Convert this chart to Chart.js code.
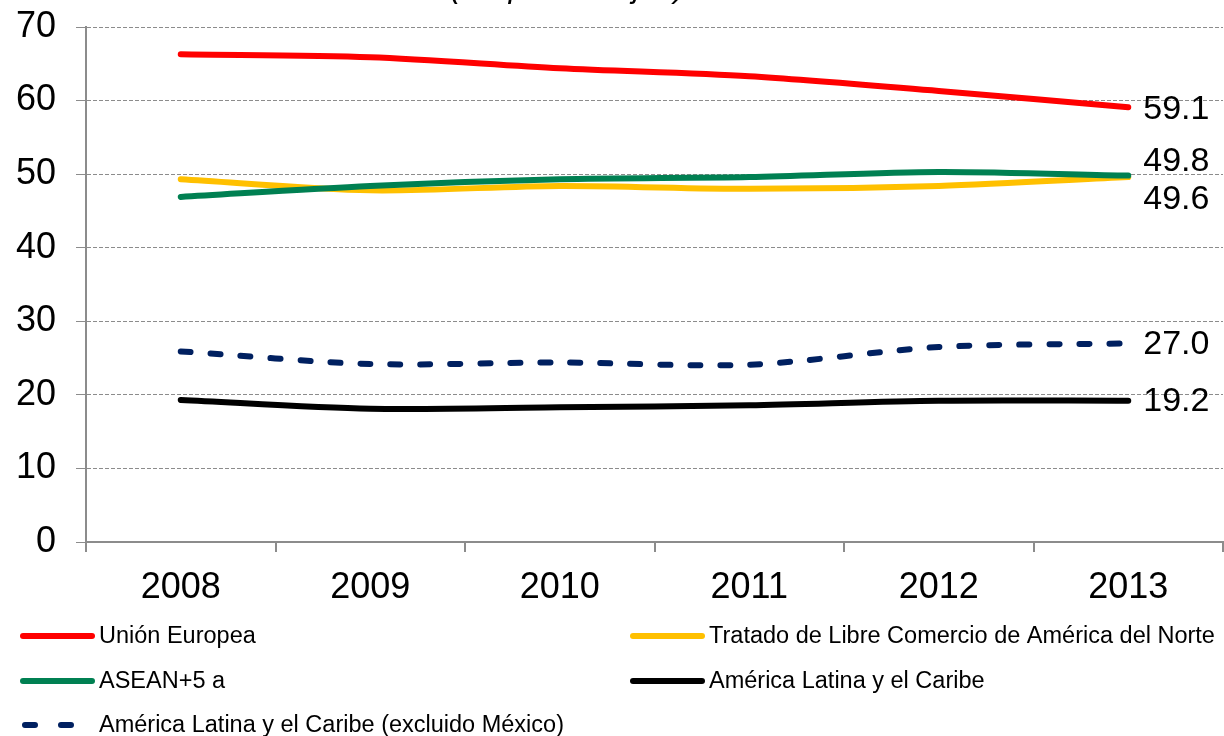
<!DOCTYPE html>
<html lang="es">
<head>
<meta charset="utf-8">
<title>Comercio intrarregional</title>
<script src="https://cdn.jsdelivr.net/npm/chart.js"></script>
<style>
  html, body { margin: 0; padding: 0; background: #fff; }
  #contenedor { width: 1224px; height: 736px; }
</style>
</head>
<body>
<div id="contenedor"><canvas id="comercioChart" width="1224" height="736"></canvas></div>
<script>
// Datos (en porcentajes)
const anios = ['2008', '2009', '2010', '2011', '2012', '2013'];
const unionEuropea = [66.3, 65.9, 64.4, 63.3, 61.3, 59.1];
const tlcan = [49.3, 47.8, 48.4, 48.0, 48.4, 49.6];
const asean = [46.9, 48.4, 49.3, 49.6, 50.3, 49.8];
const americaLatina = [19.3, 18.1, 18.3, 18.6, 19.2, 19.2];
const americaLatinaSinMexico = [25.9, 24.2, 24.4, 24.1, 26.5, 27.0];
const ticksY = [0, 10, 20, 30, 40, 50, 60, 70];

const fuente = '"Liberation Sans", Arial, sans-serif';

// Etiquetas con el último valor de cada serie
const etiquetasFinales = {
    id: 'etiquetasFinales',
    afterDatasetsDraw(chart) {
        const ctx = chart.ctx;
        const ajustes = [2, 23, -14, 1, 1]; // desplazamiento vertical de cada etiqueta
        ctx.save();
        ctx.font = '34px ' + fuente;
        ctx.fillStyle = '#000';
        ctx.textBaseline = 'middle';
        chart.data.datasets.forEach((ds, i) => {
            const meta = chart.getDatasetMeta(i);
            const punto = meta.data[meta.data.length - 1];
            const valor = ds.data[ds.data.length - 1];
            ctx.fillText(valor.toFixed(1), punto.x + 15, punto.y + ajustes[i]);
        });
        ctx.restore();
    }
};

// Subtítulo cortado arriba y leyenda en dos columnas
const leyenda = {
    id: 'leyenda',
    afterDraw(chart) {
        const ctx = chart.ctx;
        ctx.save();
        ctx.font = 'italic 32px ' + fuente;
        ctx.fillStyle = '#000';
        ctx.textBaseline = 'alphabetic';
        ctx.fillText('(En porcentajes)', 450, -3);

        const posiciones = [[20, 636], [630, 636], [20, 681], [630, 681], [20, 725]];
        ctx.font = '23.5px ' + fuente;
        ctx.textBaseline = 'middle';
        chart.data.datasets.forEach((ds, i) => {
            const [x, y] = posiciones[i];
            ctx.beginPath();
            ctx.strokeStyle = ds.borderColor;
            ctx.lineWidth = 6;
            ctx.lineCap = 'round';
            if (ds.borderDash) {
                ctx.setLineDash([10, 26]);
                ctx.moveTo(x + 5, y);
                ctx.lineTo(x + 72, y);
            } else {
                ctx.setLineDash([]);
                ctx.moveTo(x + 3, y);
                ctx.lineTo(x + 72, y);
            }
            ctx.stroke();
            ctx.fillStyle = '#000';
            ctx.fillText(ds.label, x + 79, y + 1);
        });
        ctx.restore();
    }
};

const ctx = document.getElementById('comercioChart').getContext('2d');

window.myChart = new Chart(ctx, {
    type: 'line',
    data: {
        labels: anios,
        datasets: [
            { label: 'Unión Europea', data: unionEuropea, borderColor: '#ff0000', order: 0 },
            { label: 'Tratado de Libre Comercio de América del Norte', data: tlcan, borderColor: '#ffc000', order: 2 },
            { label: 'ASEAN+5 a', data: asean, borderColor: '#008052', order: 1 },
            { label: 'América Latina y el Caribe', data: americaLatina, borderColor: '#000000', order: 4 },
            { label: 'América Latina y el Caribe (excluido México)', data: americaLatinaSinMexico,
              borderColor: '#002060', borderDash: [10, 20], order: 3 }
        ]
    },
    options: {
        responsive: false,
        animation: false,
        layout: { padding: { top: 27, right: 1, left: 0, bottom: 0 } },
        elements: {
            line: { borderWidth: 6, tension: 0.3, borderCapStyle: 'round', fill: false },
            point: { radius: 0 }
        },
        plugins: {
            legend: { display: false },
            tooltip: { enabled: false }
        },
        scales: {
            x: {
                offset: true,
                grid: {
                    offset: true,
                    drawOnChartArea: false,
                    drawTicks: true,
                    tickLength: 10,
                    tickColor: '#8c8c8c',
                    lineWidth: 2
                },
                border: { display: true, color: '#8c8c8c', width: 2 },
                ticks: {
                    color: '#000',
                    font: { family: fuente, size: 36 },
                    padding: 14,
                    maxRotation: 0
                },
                afterFit(scale) {
                    scale.height = 194;
                    scale.paddingLeft = 0;
                    scale.paddingRight = 0;
                }
            },
            y: {
                min: 0,
                max: 70,
                afterBuildTicks(scale) { scale.ticks = ticksY.map(v => ({ value: v })); },
                grid: {
                    color: (c) => c.tick && c.tick.value === 0 ? 'rgba(0,0,0,0)' : '#8c8c8c',
                    tickColor: '#8c8c8c',
                    tickLength: 10,
                    tickBorderDash: [],
                    lineWidth: 1
                },
                border: { display: true, color: '#8c8c8c', width: 2, dash: [4, 2] },
                ticks: {
                    color: '#000',
                    font: { family: fuente, size: 36 },
                    padding: 20
                },
                afterFit(scale) {
                    scale.width = 86;
                    scale.paddingTop = 0;
                    scale.paddingBottom = 0;
                }
            }
        }
    },
    plugins: [etiquetasFinales, leyenda]
});
</script>
</body>
</html>
